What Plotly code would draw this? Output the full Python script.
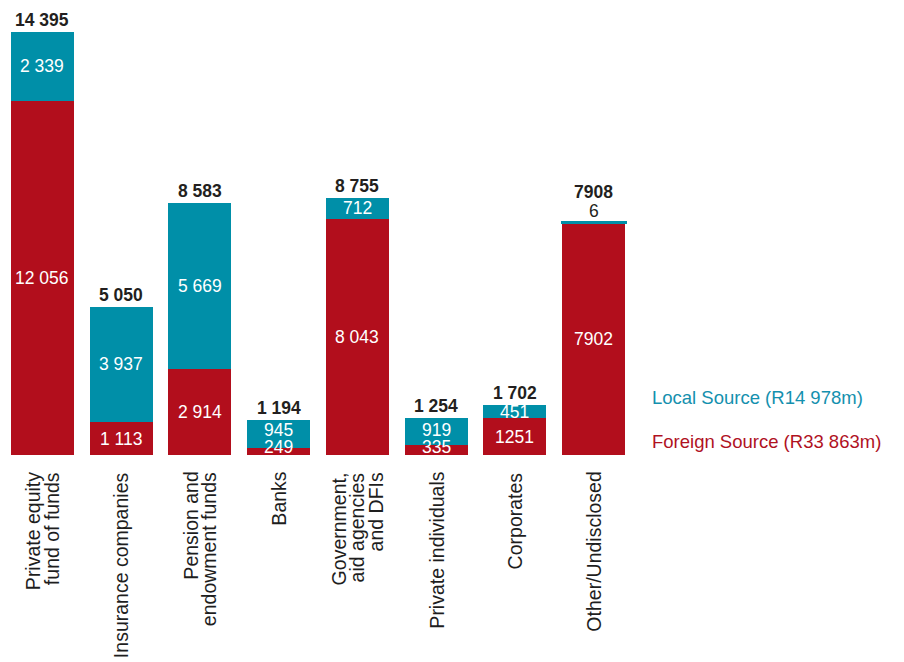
import plotly.graph_objects as go

# Investor categories, one line per wrapped label row
categories = [
    "Private equity fund of funds",
    "Insurance companies",
    "Pension and endowment funds",
    "Banks",
    "Government, aid agencies and DFIs",
    "Private individuals",
    "Corporates",
    "Other/Undisclosed",
]
category_lines = [
    ["Private equity", "fund of funds"],
    ["Insurance companies"],
    ["Pension and", "endowment funds"],
    ["Banks"],
    ["Government,", "aid agencies", "and DFIs"],
    ["Private individuals"],
    ["Corporates"],
    ["Other/Undisclosed"],
]

# Funds raised (R millions)
foreign_source = [12056, 1113, 2914, 249, 8043, 335, 1251, 7902]
local_source = [2339, 3937, 5669, 945, 712, 919, 451, 6]
totals = [14395, 5050, 8583, 1194, 8755, 1254, 1702, 7908]

# Whether each figure is printed with a space as thousands separator
foreign_grouped = [True, True, True, True, True, True, False, False]
local_grouped = [True] * 8
total_grouped = [True, True, True, True, True, True, True, False]

legend_local = "Local Source (R14 978m)"
legend_foreign = "Foreign Source (R33 863m)"

TEAL = "#008FA8"
RED = "#B20E1C"
DARK = "#231F20"

W, H = 904, 662
PLOT_TOP, PLOT_BOTTOM = 0, 455
Y_MAX = 15484
ppu = (PLOT_BOTTOM - PLOT_TOP) / Y_MAX  # pixels per unit
THIN = 150  # segments below this get an outline so they stay visible


def fmt(v, grouped):
    s = f"{v:,}"
    return s.replace(",", " " if grouped else "")


fig = go.Figure()
fig.add_trace(go.Bar(x=categories, y=foreign_source, marker=dict(color=RED, line=dict(width=0)),
                     name=legend_foreign, hoverinfo="skip"))
fig.add_trace(go.Bar(x=categories, y=local_source,
                     marker=dict(color=TEAL, line=dict(color=TEAL,
                                                       width=[3 if v < THIN else 0 for v in local_source])),
                     name=legend_local, hoverinfo="skip"))

annotations = []
seg_font = dict(family="Liberation Sans, Arial, sans-serif", size=17.5, color="white")
tot_font = dict(family="Liberation Sans, Arial, sans-serif", size=17.5, color=DARK, weight="bold")

for i, cat in enumerate(categories):
    f, l, t = foreign_source[i], local_source[i], totals[i]
    # keep labels inside the bar and clear of each other
    f_y = max(f / 2, 8 / ppu)
    l_y = max(f + l / 2, f_y + 17 / ppu)
    annotations.append(dict(x=cat, y=f_y, xref="x", yref="y", text=fmt(f, foreign_grouped[i]),
                            showarrow=False, font=seg_font))
    tot_shift = 12
    if l < THIN:
        # segment too thin for its label: print it above the bar
        annotations.append(dict(x=cat, y=t, xref="x", yref="y", text=fmt(l, local_grouped[i]),
                                showarrow=False, yshift=12,
                                font=dict(family=seg_font["family"], size=17.5, color=DARK)))
        tot_shift = 31
    else:
        annotations.append(dict(x=cat, y=l_y, xref="x", yref="y", text=fmt(l, local_grouped[i]),
                                showarrow=False, font=seg_font))
    annotations.append(dict(x=cat, y=t, xref="x", yref="y", text=fmt(t, total_grouped[i]),
                            showarrow=False, yshift=tot_shift, font=tot_font))

    # rotated category label, one annotation per line, top-aligned under the axis
    lines = category_lines[i]
    n = len(lines)
    for j, line in enumerate(lines):
        annotations.append(dict(
            x=cat, y=-(470 - PLOT_BOTTOM) / (PLOT_BOTTOM - PLOT_TOP), xref="x", yref="paper",
            text=line, textangle=-90, showarrow=False, xanchor="center", yanchor="top",
            xshift=(j - (n - 1) / 2) * 18.5,
            font=dict(family="Liberation Sans, Arial, sans-serif", size=19.5, color="#1E1E1E"),
        ))

# series key at the right
for label, color, ypx in [(legend_local, "#1490AE", 397), (legend_foreign, "#B0121F", 441)]:
    annotations.append(dict(x=650 / W, y=(PLOT_BOTTOM - ypx) / (PLOT_BOTTOM - PLOT_TOP),
                            xref="paper", yref="paper", text=label, showarrow=False,
                            xanchor="left", yanchor="middle",
                            font=dict(family="Liberation Sans, Arial, sans-serif", size=18.5, color=color)))

fig.update_layout(
    width=W, height=H,
    barmode="stack", bargap=0.2,
    margin=dict(l=0, r=0, t=PLOT_TOP, b=H - PLOT_BOTTOM, pad=0),
    paper_bgcolor="white", plot_bgcolor="white",
    showlegend=False,
    xaxis=dict(domain=[3 / W, 633 / W], showticklabels=False, showgrid=False, zeroline=False,
               showline=False, ticks=""),
    yaxis=dict(range=[0, Y_MAX], visible=False, showgrid=False, zeroline=False),
    annotations=annotations,
)

fig.write_html("out.html")
